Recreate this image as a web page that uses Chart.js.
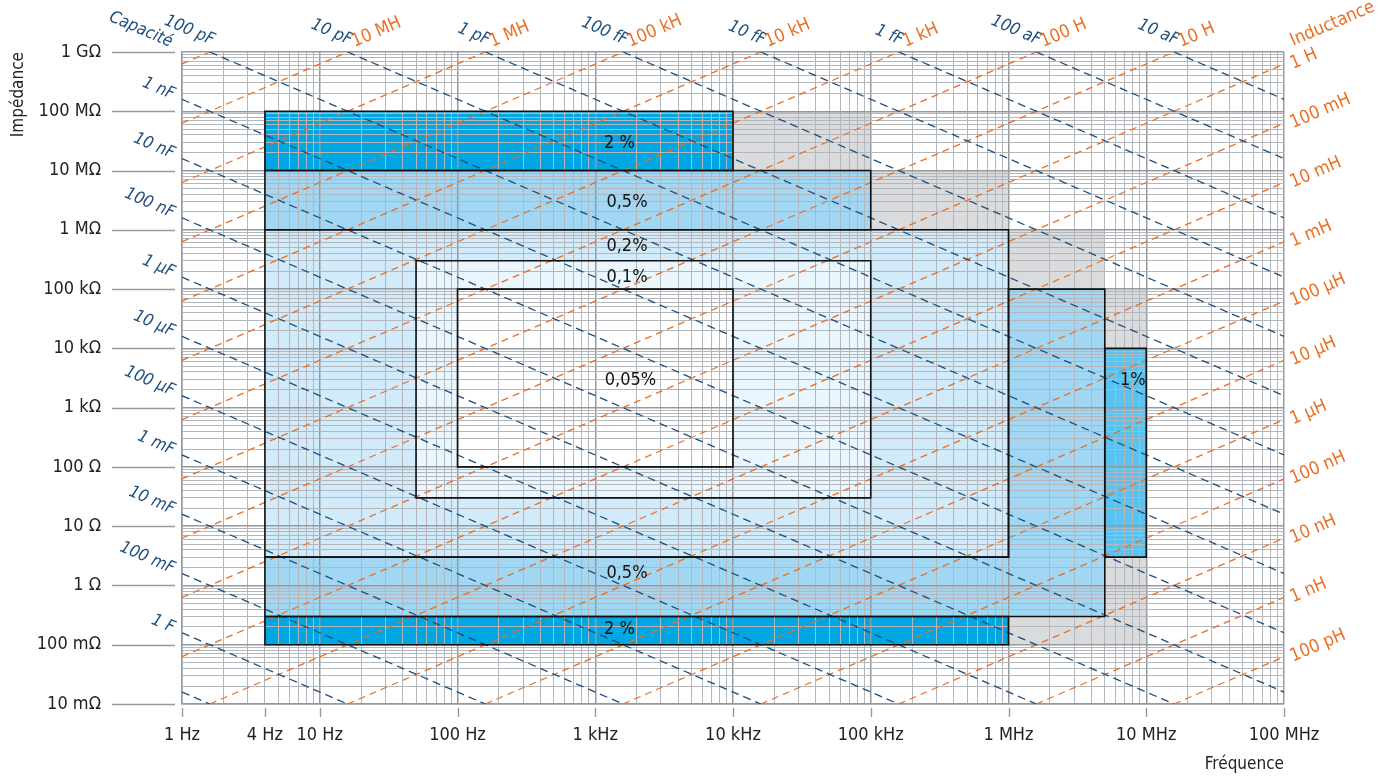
<!DOCTYPE html>
<html lang="fr">
<head>
<meta charset="utf-8">
<title>Impédance en fonction de la fréquence</title>
<script src="https://cdn.jsdelivr.net/npm/chart.js@4.4.1/dist/chart.umd.min.js"></script>
<style>
  html, body { margin: 0; padding: 0; background: #fff; }
  #wrap { width: 1387px; height: 776px; }
</style>
</head>
<body>
<div id="wrap"><canvas id="chart" width="1387" height="776"></canvas></div>
<script>
const FONT = "'Liberation Sans Narrow', 'Arial Narrow', 'DejaVu Sans Condensed', sans-serif";

// axes
const freqTicks = [1, 4, 10, 100, 1e3, 1e4, 1e5, 1e6, 1e7, 1e8];
const freqTickLabels = ['1 Hz', '4 Hz', '10 Hz', '100 Hz', '1 kHz', '10 kHz', '100 kHz', '1 MHz', '10 MHz', '100 MHz'];
const impTicks = [1e-2, 1e-1, 1, 10, 100, 1e3, 1e4, 1e5, 1e6, 1e7, 1e8, 1e9];
const impTickLabels = ['10 mΩ', '100 mΩ', '1 Ω', '10 Ω', '100 Ω', '1 kΩ', '10 kΩ', '100 kΩ', '1 MΩ', '10 MΩ', '100 MΩ', '1 GΩ'];

// iso-capacitance lines (F)
const capValues = [1e-17, 1e-16, 1e-15, 1e-14, 1e-13, 1e-12, 1e-11, 1e-10, 1e-9, 1e-8, 1e-7, 1e-6, 1e-5, 1e-4, 1e-3, 1e-2, 1e-1, 1, 10];
const capLabels = ['10 aF', '100 aF', '1 fF', '10 fF', '100 fF', '1 pF', '10 pF', '100 pF', '1 nF', '10 nF', '100 nF', '1 μF', '10 μF', '100 μF', '1 mF', '10 mF', '100 mF', '1 F', ''];

// iso-inductance lines (H)
const indValues = [1e-10, 1e-9, 1e-8, 1e-7, 1e-6, 1e-5, 1e-4, 1e-3, 1e-2, 1e-1, 1, 10, 100, 1e3, 1e4, 1e5, 1e6, 1e7, 1e8];
const indLabels = ['100 pH', '1 nH', '10 nH', '100 nH', '1 μH', '10 μH', '100 μH', '1 mH', '10 mH', '100 mH', '1 H', '10 H', '100 H', '1 kH', '10 kH', '100 kH', '1 MH', '10 MH', ''];

// accuracy zones: [f from, f to, Z from, Z to, shade]
const zoneBoxes = [
  [4, 1e4, 1e7, 1e8, 0],
  [4, 1e6, 0.1, 0.3, 0],
  [4, 1e5, 1e6, 1e7, 1],
  [4, 5e6, 0.3, 3, 1],
  [1e6, 5e6, 3, 1e5, 1],
  [5e6, 1e7, 3, 1e4, 2],
  [4, 1e6, 3, 1e6, 3],
  [50, 1e5, 30, 3e5, 4],
  [100, 1e4, 100, 1e5, 5],
];
const greyZones = [
  [1e4, 1e5, 1e7, 1e8],
  [1e5, 1e6, 1e6, 1e7],
  [1e6, 5e6, 1e5, 1e6],
  [5e6, 1e7, 1e4, 1e5],
  [1e6, 1e7, 0.1, 0.3],
  [5e6, 1e7, 0.3, 3],
];
// zone borders, as [f, Z] corners
const zoneOutlines = [
  [[4, 1e7], [1e4, 1e7], [1e4, 1e8], [4, 1e8]],
  [[4, 1e6], [1e5, 1e6], [1e5, 1e7], [4, 1e7]],
  [[4, 3], [1e6, 3], [1e6, 1e6], [4, 1e6]],
  [[50, 30], [1e5, 30], [1e5, 3e5], [50, 3e5]],
  [[100, 100], [1e4, 100], [1e4, 1e5], [100, 1e5]],
  [[1e6, 1e5], [5e6, 1e5], [5e6, 0.3], [4, 0.3], [4, 3], [1e6, 3]],
  [[5e6, 3], [1e7, 3], [1e7, 1e4], [5e6, 1e4]],
  [[4, 0.1], [1e6, 0.1], [1e6, 0.3], [4, 0.3]],
];
const zoneNames = ['2 %', '0,5%', '0,2%', '0,1%', '0,05%', '1%', '0,5%', '2 %'];
const zoneNameFreq = [1.5e3, 1.7e3, 1.7e3, 1.7e3, 1.8e3, 8e6, 1.7e3, 1.5e3];
const zoneNameImp = [2.9e7, 2.9e6, 5.2e5, 1.6e5, 2.9e3, 2.9e3, 1.6, 0.18];

const SHADES = ['#00a7e3', '#a2d7f4', '#5ac2ee', '#d2ebfa', '#eaf6fd', '#ffffff'];
const GREY = '#d9dbdd';
const CAP_COLOR = '#1d4e7d';
const IND_COLOR = '#ea6f24';
const MAJOR = '#969a9f';
const MINOR = '#b3b7bb';

const F_MIN = 1, F_MAX = 1e8, Z_MIN = 1e-2, Z_MAX = 1e9;
const TWO_PI = 2 * Math.PI;

function capSegment(c) {
  const f1 = Math.max(F_MIN, 1 / (TWO_PI * c * Z_MAX));
  const f2 = Math.min(F_MAX, 1 / (TWO_PI * c * Z_MIN));
  if (f1 >= f2) return null;
  return [{ x: f1, y: 1 / (TWO_PI * f1 * c) }, { x: f2, y: 1 / (TWO_PI * f2 * c) }];
}
function indSegment(l) {
  const f1 = Math.max(F_MIN, Z_MIN / (TWO_PI * l));
  const f2 = Math.min(F_MAX, Z_MAX / (TWO_PI * l));
  if (f1 >= f2) return null;
  return [{ x: f1, y: TWO_PI * f1 * l }, { x: f2, y: TWO_PI * f2 * l }];
}

function isDecade(v) {
  const l = Math.log10(v);
  return Math.abs(l - Math.round(l)) < 1e-6;
}
function logTicks(min, max) {
  const out = [];
  for (let e = Math.round(Math.log10(min)); e <= Math.round(Math.log10(max)); e++) {
    for (let m = 1; m <= 9; m++) {
      const v = m * Math.pow(10, e);
      if (v >= min * 0.999 && v <= max * 1.001) out.push({ value: v });
    }
  }
  return out;
}
function findLabel(values, labels, v) {
  const i = values.findIndex(t => Math.abs(t - v) / t < 1e-6);
  return i >= 0 ? labels[i] : '';
}

const datasets = [];
capValues.forEach(c => {
  const seg = capSegment(c);
  if (seg) datasets.push({ data: seg, borderColor: CAP_COLOR, borderWidth: 1.3, borderDash: [8, 5] });
});
indValues.forEach(l => {
  const seg = indSegment(l);
  if (seg) datasets.push({ data: seg, borderColor: IND_COLOR, borderWidth: 1.3, borderDash: [7, 5] });
});

function rotText(ctx, text, x, y, angle, align, color, font) {
  ctx.save();
  ctx.translate(x, y);
  ctx.rotate(angle);
  ctx.textAlign = align;
  ctx.textBaseline = 'alphabetic';
  ctx.fillStyle = color;
  ctx.font = font;
  ctx.fillText(text, 0, 0);
  ctx.restore();
}

const zonesPlugin = {
  id: 'zones',
  beforeDraw(chart) {
    const { ctx, chartArea: a, scales: { x, y } } = chart;
    const box = (r, color) => {
      const x1 = x.getPixelForValue(r[0]), x2 = x.getPixelForValue(r[1]);
      const y1 = y.getPixelForValue(r[2]), y2 = y.getPixelForValue(r[3]);
      ctx.fillStyle = color;
      ctx.fillRect(x1, y2, x2 - x1, y1 - y2);
    };
    ctx.save();
    ctx.beginPath();
    ctx.rect(a.left, a.top, a.width, a.height);
    ctx.clip();
    greyZones.forEach(r => box(r, GREY));
    zoneBoxes.forEach(r => box(r, SHADES[r[4]]));
    ctx.restore();
  },
  afterDatasetsDraw(chart) {
    const { ctx, scales: { x, y } } = chart;
    ctx.save();
    ctx.strokeStyle = '#111';
    ctx.lineWidth = 1.6;
    ctx.lineJoin = 'miter';
    zoneOutlines.forEach(poly => {
      ctx.beginPath();
      poly.forEach((p, i) => {
        const px = x.getPixelForValue(p[0]), py = y.getPixelForValue(p[1]);
        if (i === 0) ctx.moveTo(px, py); else ctx.lineTo(px, py);
      });
      ctx.closePath();
      ctx.stroke();
    });
    ctx.fillStyle = '#111';
    ctx.font = '18px ' + FONT;
    ctx.textAlign = 'center';
    ctx.textBaseline = 'middle';
    zoneNames.forEach((t, i) => {
      ctx.fillText(t, x.getPixelForValue(zoneNameFreq[i]), y.getPixelForValue(zoneNameImp[i]));
    });
    ctx.restore();
  },
  afterDraw(chart) {
    const { ctx, chartArea: a, scales: { x, y } } = chart;
    ctx.save();
    // outer tick marks
    ctx.strokeStyle = MAJOR;
    ctx.lineWidth = 1.4;
    impTicks.forEach(v => {
      const py = Math.round(y.getPixelForValue(v)) + 0.5;
      ctx.beginPath(); ctx.moveTo(a.left - 70, py); ctx.lineTo(a.left - 7, py); ctx.stroke();
    });
    freqTicks.forEach(v => {
      const px = Math.round(x.getPixelForValue(v)) + 0.5;
      ctx.beginPath(); ctx.moveTo(px, a.bottom + 4); ctx.lineTo(px, a.bottom + 13); ctx.stroke();
    });

    // component labels, slanted like the lines
    const theta = Math.atan((y.getPixelForValue(1) - y.getPixelForValue(10)) / (x.getPixelForValue(10) - x.getPixelForValue(1)));
    const capFont = 'italic 17px ' + FONT;
    const indFont = '18px ' + FONT;
    capValues.forEach((c, i) => {
      if (!capLabels[i]) return;
      const zLeft = 1 / (TWO_PI * F_MIN * c);
      const fTop = 1 / (TWO_PI * c * Z_MAX);
      if (zLeft >= Z_MIN && zLeft <= Z_MAX) {
        rotText(ctx, capLabels[i], a.left - 10, y.getPixelForValue(zLeft), theta, 'right', CAP_COLOR, capFont);
      } else if (fTop >= F_MIN && fTop <= F_MAX) {
        rotText(ctx, capLabels[i], x.getPixelForValue(fTop) + 2, a.top - 7, theta, 'right', CAP_COLOR, capFont);
      }
    });
    indValues.forEach((l, i) => {
      if (!indLabels[i]) return;
      const zRight = TWO_PI * F_MAX * l;
      const fTop = Z_MAX / (TWO_PI * l);
      if (zRight >= Z_MIN && zRight <= Z_MAX) {
        rotText(ctx, indLabels[i], a.right + 9, y.getPixelForValue(zRight) + 5, -theta, 'left', IND_COLOR, indFont);
      } else if (fTop >= F_MIN && fTop <= F_MAX) {
        rotText(ctx, indLabels[i], x.getPixelForValue(fTop) + 7, a.top - 5, -theta, 'left', IND_COLOR, indFont);
      }
    });
    rotText(ctx, 'Capacité', a.left - 12, a.top - 5, theta, 'right', CAP_COLOR, capFont);
    rotText(ctx, 'Inductance', a.right + 9, a.top - 6, -theta, 'left', IND_COLOR, indFont);
    ctx.restore();
  }
};

const grid = (tickLength) => ({
  color: c => isDecade(c.tick.value) ? MAJOR : MINOR,
  lineWidth: c => isDecade(c.tick.value) ? 1.5 : 1,
  drawTicks: true,
  tickLength: tickLength,
  tickColor: 'rgba(0,0,0,0)'
});

new Chart(document.getElementById('chart'), {
  type: 'line',
  data: { datasets },
  plugins: [zonesPlugin],
  options: {
    responsive: false,
    animation: false,
    devicePixelRatio: 1,
    layout: { padding: { top: 52, right: 103, left: 0, bottom: 0 } },
    elements: {
      point: { radius: 0 },
      line: { tension: 0, fill: false }
    },
    plugins: {
      legend: { display: false },
      tooltip: { enabled: false }
    },
    scales: {
      x: {
        type: 'logarithmic',
        position: 'bottom',
        min: F_MIN,
        max: F_MAX,
        afterBuildTicks: s => { s.ticks = logTicks(F_MIN, F_MAX); },
        afterFit: s => { s.height = 72; },
        grid: grid(15),
        border: { display: true, color: MAJOR, width: 1.5 },
        ticks: {
          autoSkip: false, maxRotation: 0, minRotation: 0, padding: 6,
          color: '#222', font: { family: FONT, size: 18 },
          callback: v => findLabel(freqTicks, freqTickLabels, v)
        },
        title: {
          display: true, text: 'Fréquence', align: 'end', color: '#222',
          font: { family: FONT, size: 17 }, padding: { top: 0, bottom: 1 }
        }
      },
      y: {
        type: 'logarithmic',
        position: 'left',
        min: Z_MIN,
        max: Z_MAX,
        afterBuildTicks: s => { s.ticks = logTicks(Z_MIN, Z_MAX); },
        afterFit: s => { s.width = 182; },
        grid: grid(74),
        border: { display: true, color: MAJOR, width: 1.5 },
        ticks: {
          autoSkip: false, padding: 7,
          color: '#222', font: { family: FONT, size: 18 },
          callback: v => findLabel(impTicks, impTickLabels, v)
        },
        title: {
          display: true, text: 'Impédance', align: 'end', color: '#222',
          font: { family: FONT, size: 17 }, padding: { top: 8, bottom: 0 }
        }
      }
    }
  }
});
</script>
</body>
</html>
